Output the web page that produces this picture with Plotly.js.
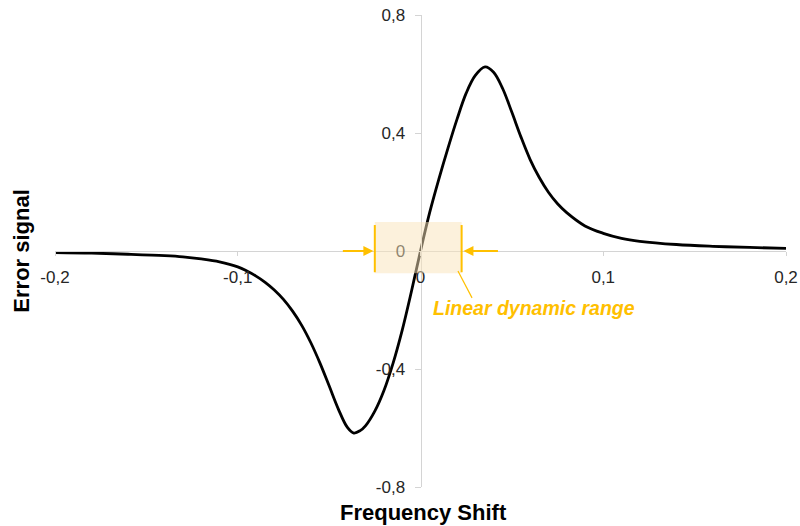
<!DOCTYPE html>
<html>
<head>
<meta charset="utf-8">
<script src="https://cdn.plot.ly/plotly-3.0.1.min.js"></script>
<style>html,body{margin:0;padding:0;background:#fff;}#chart{width:800px;height:526px;}</style>
</head>
<body>
<div id="chart"></div>
<script>
// Frequency shift (x) and error signal (y)
const freqShift = [-0.2, -0.18, -0.16, -0.14, -0.13, -0.12, -0.11, -0.10, -0.095, -0.09,
  -0.085, -0.08, -0.075, -0.07, -0.065, -0.06, -0.055, -0.05, -0.045, -0.04,
  -0.0365, -0.033, -0.03, -0.025, -0.02, -0.015, -0.01, -0.005, 0,
  0.005, 0.01, 0.015, 0.02, 0.025, 0.03, 0.0353, 0.04, 0.045, 0.05,
  0.055, 0.06, 0.065, 0.07, 0.075, 0.08, 0.09, 0.10, 0.11, 0.12,
  0.14, 0.16, 0.18, 0.2];
const errorSignal = [-0.005, -0.007, -0.011, -0.016, -0.020, -0.027, -0.037, -0.054, -0.068, -0.085,
  -0.106, -0.132, -0.164, -0.204, -0.252, -0.311, -0.380, -0.457, -0.535, -0.598,
  -0.617, -0.609, -0.592, -0.543, -0.473, -0.380, -0.268, -0.138, 0,
  0.130, 0.243, 0.348, 0.447, 0.535, 0.595, 0.624, 0.606, 0.550, 0.470,
  0.386, 0.310, 0.249, 0.199, 0.160, 0.130, 0.085, 0.060, 0.043, 0.033,
  0.022, 0.016, 0.012, 0.009];

const xTickVals = [-0.2, -0.1, 0, 0.1, 0.2];
const xTickText = ['-0,2', '-0,1', '0', '0,1', '0,2'];
const yTickVals = [-0.8, -0.4, 0, 0.4, 0.8];
const yTickText = ['-0,8', '-0,4', '0', '0,4', '0,8'];

// Linear dynamic range band (x limits) and its label
const linearRange = [-0.025, 0.0225];
const linearLabel = 'Linear dynamic range';

const orange = '#FFC000';
const axisGray = '#d4d4d4';
const font = 'Liberation Sans, Arial, sans-serif';

const trace = {
  x: freqShift, y: errorSignal, type: 'scatter', mode: 'lines',
  line: {color: '#000', width: 2.8, shape: 'spline', smoothing: 1},
  hoverinfo: 'skip'
};

const layout = {
  width: 800, height: 526,
  margin: {l: 55, r: 14, t: 15, b: 39},
  paper_bgcolor: '#fff', plot_bgcolor: '#fff',
  showlegend: false,
  font: {family: font, size: 17, color: '#262626'},
  xaxis: {
    range: [-0.2, 0.2], anchor: 'free', position: 0.5,
    showgrid: false, zeroline: false,
    showline: true, linecolor: axisGray, linewidth: 1,
    ticks: 'outside', ticklen: 4, tickcolor: axisGray,
    tickmode: 'array', tickvals: xTickVals, ticktext: xTickText,
    ticklabelstandoff: 7,
    tickfont: {family: font, size: 17, color: '#262626'}
  },
  yaxis: {
    range: [-0.8, 0.8], anchor: 'free', position: 0.5,
    showgrid: false, zeroline: false,
    showline: true, linecolor: axisGray, linewidth: 1,
    ticks: 'outside', ticklen: 6, tickcolor: axisGray,
    tickmode: 'array', tickvals: yTickVals, ticktext: yTickText,
    ticklabelstandoff: 6,
    tickfont: {family: font, size: 17, color: '#262626'}
  },
  shapes: [
    {type: 'rect', layer: 'above', xref: 'x', yref: 'y',
     x0: linearRange[0], x1: linearRange[1], y0: -0.075, y1: 0.098,
     fillcolor: 'rgba(250,228,185,0.5)', line: {width: 0}},
    {type: 'line', layer: 'above', xref: 'x', yref: 'y',
     x0: linearRange[0], x1: linearRange[0], y0: -0.072, y1: 0.088,
     line: {color: orange, width: 2}},
    {type: 'line', layer: 'above', xref: 'x', yref: 'y',
     x0: linearRange[1], x1: linearRange[1], y0: -0.072, y1: 0.088,
     line: {color: orange, width: 2}},
    {type: 'line', layer: 'above', xref: 'x', yref: 'y',
     x0: 0.0205, x1: 0.0282, y0: -0.068, y1: -0.159,
     line: {color: orange, width: 1.2}}
  ],
  annotations: [
    {x: linearRange[0] - 0.0008, y: 0, xref: 'x', yref: 'y', text: '',
     showarrow: true, arrowhead: 2, arrowsize: 1, arrowwidth: 2, arrowcolor: orange,
     ax: -32, ay: 0, standoff: 0},
    {x: linearRange[1] + 0.001, y: 0, xref: 'x', yref: 'y', text: '',
     showarrow: true, arrowhead: 2, arrowsize: 1, arrowwidth: 2, arrowcolor: orange,
     ax: 36, ay: 0, standoff: 0},
    {x: 0.006, y: -0.193, xref: 'x', yref: 'y', xanchor: 'left', yanchor: 'middle',
     text: '<b><i>' + linearLabel + '</i></b>', showarrow: false,
     font: {family: font, size: 19.5, color: orange}},
    {x: 0.5, y: -0.053, xref: 'paper', yref: 'paper', xanchor: 'center', yanchor: 'middle',
     xshift: 3,
     text: '<b>Frequency Shift</b>', showarrow: false,
     font: {family: font, size: 22, color: '#000'}},
    {x: -0.047, y: 0.5, xref: 'paper', yref: 'paper', xanchor: 'center', yanchor: 'middle',
     text: '<b>Error signal</b>', textangle: -90, showarrow: false,
     font: {family: font, size: 22, color: '#000'}}
  ]
};

Plotly.newPlot('chart', [trace], layout, {staticPlot: true, displayModeBar: false});
</script>
</body>
</html>
